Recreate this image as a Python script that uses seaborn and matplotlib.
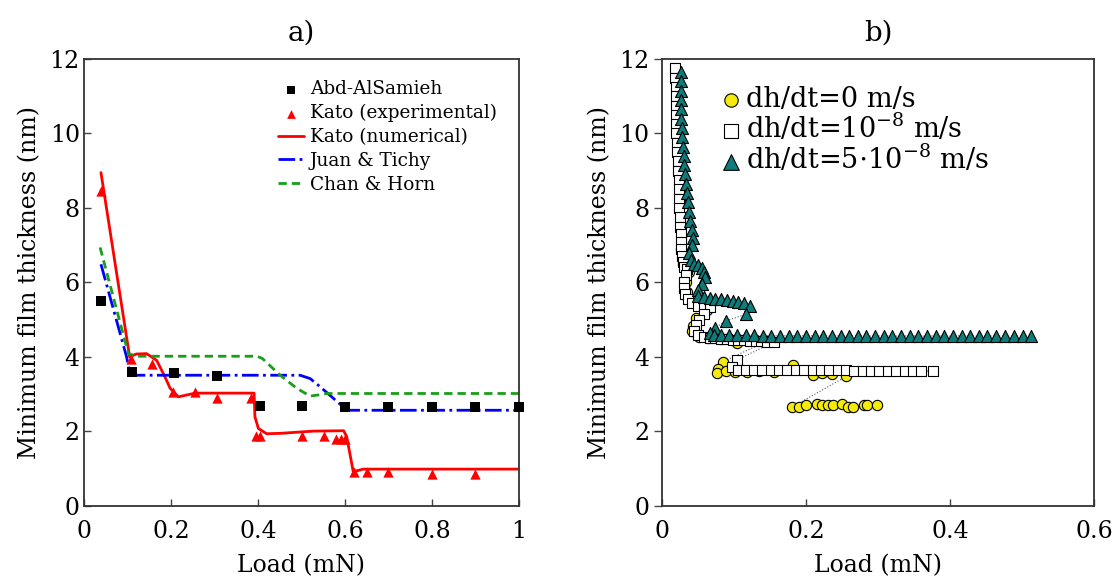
import numpy as np
import pandas as pd
import seaborn as sns
import matplotlib.pyplot as plt

# ---- panel a) data ----
abd_x = [0.039, 0.11, 0.206, 0.305, 0.405, 0.502, 0.6, 0.7, 0.8, 0.9, 1.0]
abd_y = [5.5, 3.6, 3.56, 3.5, 2.69, 2.69, 2.67, 2.67, 2.67, 2.66, 2.65]

kato_exp_x = [0.039, 0.109, 0.157, 0.205, 0.255, 0.305, 0.385, 0.395, 0.405, 0.502,
              0.552, 0.58, 0.59, 0.6, 0.62, 0.65, 0.7, 0.8, 0.9]
kato_exp_y = [8.45, 3.94, 3.8, 3.06, 3.07, 2.9, 2.9, 1.88, 1.88, 1.87,
              1.88, 1.79, 1.79, 1.79, 0.92, 0.92, 0.92, 0.87, 0.87]

kato_num_x = [0.039, 0.105, 0.12, 0.144, 0.167, 0.186, 0.198, 0.217, 0.244, 0.255,
              0.391, 0.393, 0.401, 0.42, 0.451, 0.527, 0.597, 0.604, 0.619, 0.642, 1.0]
kato_num_y = [8.95, 4.0, 4.08, 4.09, 3.91, 3.47, 3.16, 2.93, 3.0, 3.03,
              3.03, 2.39, 2.08, 1.94, 1.95, 2.01, 2.02, 1.86, 0.92, 0.99, 0.99]

juan_x = [0.039, 0.098, 0.106, 0.497, 0.52, 0.543, 0.596, 0.608, 1.0]
juan_y = [6.49, 4.0, 3.51, 3.51, 3.42, 3.2, 2.66, 2.57, 2.57]

chan_x = [0.037, 0.102, 0.113, 0.12, 0.398, 0.41, 0.451, 0.489, 0.52, 0.538, 0.558, 1.0]
chan_y = [6.94, 4.09, 4.05, 4.02, 4.02, 3.96, 3.51, 3.16, 2.95, 2.98, 3.02, 3.02]

# ---- panel b) data ----
yel_x = [0.021, 0.022, 0.023, 0.024, 0.025, 0.026, 0.027, 0.029, 0.038, 0.033,
         0.034, 0.036, 0.062, 0.047, 0.043, 0.042, 0.052, 0.064, 0.081, 0.104,
         0.145, 0.084, 0.078, 0.076, 0.089, 0.102, 0.118, 0.135, 0.155, 0.182,
         0.209, 0.222, 0.236, 0.256, 0.180, 0.190, 0.200, 0.215, 0.222, 0.230,
         0.238, 0.250, 0.258, 0.265, 0.280, 0.285, 0.299]
yel_y = [11.4, 10.6, 9.8, 9.0, 8.2, 7.5, 6.9, 6.5, 6.28, 6.0,
         5.75, 5.55, 5.27, 5.05, 4.82, 4.69, 4.55, 4.5, 4.47, 4.38,
         4.42, 3.87, 3.69, 3.57, 3.63, 3.6, 3.6, 3.62, 3.6, 3.78,
         3.51, 3.56, 3.55, 3.48, 2.65, 2.66, 2.72, 2.75, 2.7, 2.7,
         2.7, 2.75, 2.67, 2.67, 2.7, 2.7, 2.7]

sq_x = [0.018, 0.018, 0.019, 0.019, 0.019, 0.020, 0.020, 0.020, 0.021, 0.021,
        0.022, 0.022, 0.023, 0.023, 0.024, 0.024, 0.025, 0.025, 0.026, 0.027,
        0.027, 0.028, 0.029, 0.031, 0.034, 0.033, 0.031, 0.030, 0.032, 0.036,
        0.042, 0.050, 0.058, 0.066, 0.058, 0.052, 0.047, 0.045, 0.050, 0.058,
        0.066, 0.074, 0.082, 0.090, 0.098, 0.106, 0.114, 0.122, 0.130, 0.138,
        0.146, 0.155, 0.104, 0.097, 0.105, 0.116, 0.128, 0.139, 0.151, 0.163,
        0.174, 0.186, 0.197, 0.209, 0.221, 0.232, 0.244, 0.256, 0.267, 0.279,
        0.290, 0.302, 0.314, 0.325, 0.337, 0.348, 0.360, 0.376]
sq_y = [11.75, 11.5, 11.25, 11.0, 10.75, 10.5, 10.25, 10.0, 9.75, 9.5,
        9.25, 9.0, 8.75, 8.5, 8.25, 8.0, 7.75, 7.5, 7.3, 7.1,
        6.9, 6.7, 6.55, 6.42, 6.35, 6.2, 6.0, 5.85, 5.7, 5.55,
        5.45, 5.36, 5.34, 5.33, 5.15, 5.0, 4.85, 4.7, 4.6, 4.55,
        4.52, 4.5, 4.48, 4.47, 4.46, 4.45, 4.45, 4.44, 4.43, 4.42,
        4.41, 4.4, 3.92, 3.72, 3.65, 3.65, 3.65, 3.65, 3.65, 3.65,
        3.65, 3.65, 3.65, 3.66, 3.66, 3.66, 3.66, 3.64, 3.63, 3.62,
        3.62, 3.62, 3.62, 3.62, 3.62, 3.62, 3.62, 3.62]

tri_x = [0.026, 0.026, 0.026, 0.027, 0.027, 0.027, 0.028, 0.028, 0.029, 0.030,
         0.031, 0.032, 0.033, 0.035, 0.036, 0.037, 0.039, 0.041, 0.043, 0.041,
         0.038, 0.040, 0.045, 0.050, 0.055, 0.058, 0.060, 0.055, 0.050, 0.050,
         0.058, 0.066, 0.074, 0.082, 0.090, 0.098, 0.106, 0.114, 0.122, 0.117,
         0.089, 0.074, 0.066, 0.072, 0.082, 0.093, 0.104, 0.116, 0.128, 0.140,
         0.152, 0.164, 0.176, 0.188, 0.200, 0.212, 0.224, 0.236, 0.248, 0.260,
         0.272, 0.284, 0.296, 0.308, 0.320, 0.332, 0.344, 0.356, 0.368, 0.380,
         0.392, 0.404, 0.416, 0.428, 0.440, 0.452, 0.464, 0.476, 0.489, 0.501,
         0.513]
tri_y = [11.65, 11.4, 11.15, 10.9, 10.65, 10.4, 10.15, 9.9, 9.65, 9.4,
         9.15, 8.9, 8.65, 8.4, 8.15, 7.9, 7.65, 7.4, 7.2, 7.0,
         6.8, 6.6, 6.5, 6.47, 6.4, 6.28, 6.15, 5.97, 5.8, 5.65,
         5.6, 5.59, 5.57, 5.55, 5.53, 5.5, 5.48, 5.44, 5.36, 5.15,
         4.97, 4.79, 4.65, 4.6, 4.59, 4.58, 4.58, 4.58, 4.58, 4.57,
         4.57, 4.57, 4.57, 4.57, 4.57, 4.57, 4.57, 4.56, 4.57, 4.56,
         4.57, 4.56, 4.56, 4.57, 4.56, 4.56, 4.57, 4.56, 4.56, 4.57,
         4.56, 4.56, 4.57, 4.56, 4.56, 4.56, 4.57, 4.56, 4.56, 4.56,
         4.56]

sns.set_theme(style='ticks')
plt.rcParams['font.family'] = ['DejaVu Serif']
plt.rcParams['mathtext.fontset'] = 'dejavuserif'
plt.rcParams['text.color'] = 'black'
plt.rcParams['axes.labelcolor'] = 'black'
plt.rcParams['xtick.labelcolor'] = 'black'
plt.rcParams['ytick.labelcolor'] = 'black'

fig = plt.figure(figsize=(11.17, 5.8), dpi=100)
ax1 = fig.add_axes([0.0752, 0.1276, 0.3894, 0.7707])
ax2 = fig.add_axes([0.5927, 0.1276, 0.3867, 0.7707])

# ---- a) ----
sns.lineplot(x=kato_num_x, y=kato_num_y, sort=False, estimator=None, color='#ff0000',
             lw=2.0, ax=ax1, label='Kato (numerical)', zorder=2)
sns.lineplot(x=juan_x, y=juan_y, sort=False, estimator=None, color='#0000ff',
             lw=2.0, linestyle=(0, (6, 1.6, 1, 1.6)), ax=ax1, label='Juan & Tichy', zorder=2)
sns.lineplot(x=chan_x, y=chan_y, sort=False, estimator=None, color='#1a9e1a',
             lw=2.0, linestyle=(0, (3, 1.8)), ax=ax1, label='Chan & Horn', zorder=2)
sns.scatterplot(x=abd_x, y=abd_y, marker='s', color='black', s=42, linewidth=0,
                ax=ax1, label='Abd-AlSamieh', zorder=3, clip_on=False)
sns.scatterplot(x=kato_exp_x, y=kato_exp_y, marker='^', color='#ff0000', s=55, linewidth=0,
                ax=ax1, label='Kato (experimental)', zorder=3)

h, l = ax1.get_legend_handles_labels()
order = [l.index(n) for n in ['Abd-AlSamieh', 'Kato (experimental)', 'Kato (numerical)',
                              'Juan & Tichy', 'Chan & Horn']]
ax1.legend([h[i] for i in order], [l[i] for i in order], loc='upper left',
           bbox_to_anchor=(0.445, 0.952), frameon=False, fontsize=13.3,
           labelspacing=0.31, handlelength=1.45, handletextpad=0.3, markerscale=0.85,
           borderaxespad=0, borderpad=0)

ax1.set_xlim(0, 1)
ax1.set_ylim(0, 12)
ax1.set_xticks([0, 0.2, 0.4, 0.6, 0.8, 1.0])
ax1.set_xticklabels(['0', '0.2', '0.4', '0.6', '0.8', '1'])
ax1.set_yticks(range(0, 13, 2))
ax1.tick_params(direction='in', length=5, width=1, labelsize=17, color='#444444')
ax1.tick_params(axis='x', pad=10)
ax1.tick_params(axis='y', pad=3)
ax1.set_xlabel('Load (mN)', fontsize=17, labelpad=8)
ax1.set_ylabel('Minimum film thickness (nm)', fontsize=17, labelpad=6)
ax1.set_title('a)', fontsize=20, pad=13)

# ---- b) ----
for xs, ys in [(yel_x, yel_y), (sq_x, sq_y), (tri_x, tri_y)]:
    sns.lineplot(x=xs, y=ys, sort=False, estimator=None, color='0.35', lw=0.8,
                 linestyle=':', ax=ax2, zorder=1)
sns.scatterplot(x=yel_x, y=yel_y, marker='o', color='#f4ea0c', edgecolor='black',
                linewidth=0.8, s=55, ax=ax2, label='dh/dt=0 m/s', zorder=2)
sns.scatterplot(x=sq_x, y=sq_y, marker='s', color='white', edgecolor='black',
                linewidth=0.8, s=55, ax=ax2, label=r'dh/dt=10$^{\mathregular{-8}}$ m/s', zorder=3)
sns.scatterplot(x=tri_x, y=tri_y, marker='^', color='#0e7c7b', edgecolor='black',
                linewidth=0.8, s=75, ax=ax2, label=r'dh/dt=5$\cdot$10$^{\mathregular{-8}}$ m/s', zorder=4)
ax2.legend(loc='upper left', bbox_to_anchor=(0.135, 0.94), frameon=False, fontsize=19.5,
           labelspacing=0.0, handlelength=0.8, handletextpad=0.15, borderaxespad=0,
           borderpad=0, markerscale=1.3)

ax2.set_xlim(0, 0.6)
ax2.set_ylim(0, 12)
ax2.set_xticks([0, 0.2, 0.4, 0.6])
ax2.set_xticklabels(['0', '0.2', '0.4', '0.6'])
ax2.set_yticks(range(0, 13, 2))
ax2.tick_params(axis='x', direction='in', length=5, width=1, labelsize=17, color='#444444', pad=10)
ax2.tick_params(axis='y', direction='out', length=6, width=1, labelsize=17, color='#444444', pad=3)
ax2.set_xlabel('Load (mN)', fontsize=17, labelpad=8)
ax2.set_ylabel('Minimum film thickness (nm)', fontsize=17, labelpad=6)
ax2.set_title('b)', fontsize=20, pad=13)

for ax in (ax1, ax2):
    for sp in ax.spines.values():
        sp.set_visible(True)
        sp.set_color('#333333')
        sp.set_linewidth(1.3)

fig.savefig('out.png', dpi=100)
